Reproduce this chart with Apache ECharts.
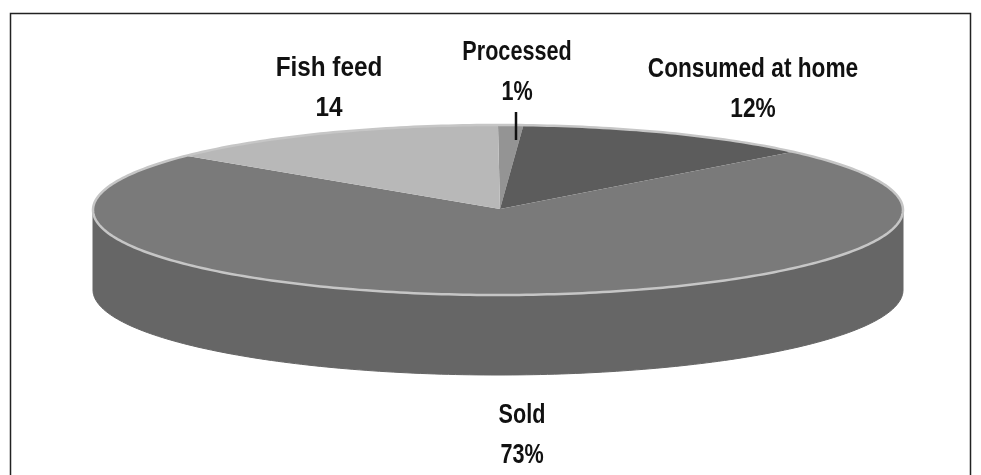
<!DOCTYPE html>
<html><head><meta charset="utf-8">
<style>html,body{margin:0;padding:0;background:#fff}#c{width:981px;height:475px}</style>
<script src="https://cdn.jsdelivr.net/npm/echarts@6/dist/echarts.min.js"></script>
</head><body><div id="c"></div>
<script>
const categories = ['Processed', 'Consumed at home', 'Sold', 'Fish feed'];
const values = [1, 12, 73, 14];
const valueLabels = ['1%', '12%', '73%', '14'];
const sliceColors = ['#949494', '#5c5c5c', '#7a7a7a', '#b8b8b8'];

const CX = 498, CY = 210, RX = 405, RY = 85, DEPTH = 80, CLIP_RIGHT = 903;
const total = values.reduce((a, b) => a + b, 0);
const pt = (deg, dy) => {
  const r = deg * Math.PI / 180;
  return [Math.min(CX + RX * Math.sin(r), CLIP_RIGHT), CY - RY * Math.cos(r) + (dy || 0)];
};
function arcPts(a0, a1, dy) {
  const out = [];
  const n = Math.max(2, Math.ceil(Math.abs(a1 - a0)));
  for (let i = 0; i <= n; i++) out.push(pt(a0 + (a1 - a0) * i / n, dy));
  return out;
}
const starts = [];
values.reduce((acc, v, i) => { starts[i] = acc; return acc + v; }, 0);

const labelSpots = [
  { x: 517, y: 73, sx: 0.8 }, { x: 753, y: 90, sx: 0.84 }, { x: 522, y: 436, sx: 0.8 }, { x: 329, y: 89, sx: 0.9 }
];
const textStyle = (t) => ({
  text: t, fontFamily: '"Liberation Sans",Arimo,sans-serif', fontWeight: 'bold',
  fontSize: 27, lineHeight: 40, fill: '#111', align: 'center', verticalAlign: 'middle'
});

const option = {
  animation: false,
  backgroundColor: '#fff',
  graphic: [
    { type: 'polyline', silent: true, z: 1, shape: { points: [[10.5, 475], [10.5, 13.5], [970.5, 13.5], [970.5, 475]] },
      style: { stroke: '#222', lineWidth: 1.5, fill: null } },
    ...categories.map((c, i) => ({
      type: 'text', z: 20, x: labelSpots[i].x, y: labelSpots[i].y, scaleX: labelSpots[i].sx,
      style: textStyle(c + '\n' + valueLabels[i])
    })),
    { type: 'line', z: 20, shape: { x1: 516, y1: 112, x2: 516, y2: 140 }, style: { stroke: '#111', lineWidth: 2.5 } }
  ],
  series: [
    {
      type: 'custom', coordinateSystem: 'none', z: 5, silent: true,
      data: [values[2]],
      renderItem: () => ({
        type: 'polygon',
        shape: { points: [...arcPts(90, 270, 0), ...arcPts(270, 90, DEPTH)] },
        style: { fill: '#666666', stroke: '#666666' }
      })
    },
    {
      type: 'custom', coordinateSystem: 'none', z: 6, silent: true,
      data: values,
      renderItem: (params, api) => {
        const i = params.dataIndex;
        const a0 = starts[i] / total * 360, a1 = a0 + api.value(0) / total * 360;
        return {
          type: 'polygon',
          shape: { points: [[CX + 2, CY - 1], ...arcPts(a0, a1, 0)] },
          style: { fill: sliceColors[i] }
        };
      }
    },
    {
      type: 'custom', coordinateSystem: 'none', z: 7, silent: true,
      data: [total],
      renderItem: () => ({
        type: 'polyline',
        shape: { points: arcPts(0, 360, 0) },
        style: { stroke: '#c6c6c6', lineWidth: 2.5, fill: null }
      })
    }
  ]
};
const chart = echarts.init(document.getElementById('c'), null, { renderer: 'canvas' });
chart.setOption(option);
</script></body></html>
